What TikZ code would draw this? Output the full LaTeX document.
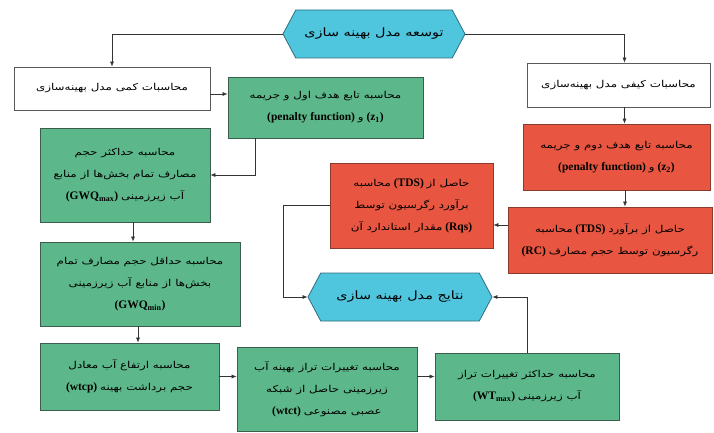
\documentclass[tikz,border=0pt]{standalone}
\usepackage{fontspec}
\setmainfont{Liberation Serif}
\newfontfamily\arabicfont[Script=Arabic,FakeStretch=1.25]{DejaVu Sans}
\TeXXeTstate=1
\usetikzlibrary{shapes.symbols,arrows.meta}
\newcommand\fasize{9.5}
\newcommand\fa[1]{{\arabicfont\mdseries\fontsize{\fasize}{22}\selectfont\beginR #1\endR}}
\definecolor{gfill}{HTML}{5CB88A}
\definecolor{gline}{HTML}{3B5E4C}
\definecolor{rfill}{HTML}{E85540}
\definecolor{rline}{HTML}{8B3A2E}
\definecolor{cfill}{HTML}{4FC5DE}
\definecolor{cline}{HTML}{2F6F80}
\tikzset{
  base/.style={draw, line width=0.8pt, align=center, inner sep=2pt, font=\fontsize{11.5}{22}\selectfont\bfseries},
  wbox/.style={base, draw=black!65, fill=white},
  gbox/.style={base, draw=gline, fill=gfill},
  rbox/.style={base, draw=rline, fill=rfill},
  hexa/.style={base, draw=cline, fill=cfill, shape=signal, signal to=east and west, signal pointer angle=124,
    font=\renewcommand\fasize{11.5}},
  arr/.style={draw=black!80, line width=0.6pt, -{Latex[length=5pt,width=4pt]}}
}
\begin{document}
\begin{tikzpicture}[x=1pt,y=-1pt]
\useasboundingbox (0,0) rectangle (714,433);
\node[hexa, minimum width=182pt, minimum height=48pt] (top) at (374,34) {\fa{توسعه مدل بهینه سازی}};
\node[hexa, minimum width=184pt, minimum height=48pt] (res) at (400,297) {\fa{نتایج مدل بهینه سازی}};
\node[wbox, minimum width=196pt, minimum height=43pt] (wL) at (112,88.5) {\fa{محاسبات کمی مدل بهینه‌سازی}};
\node[wbox, minimum width=183pt, minimum height=44pt] (wR) at (618.5,85) {\fa{محاسبات کیفی مدل بهینه‌سازی}};
\node[gbox, minimum width=195pt, minimum height=61pt] (g1) at (325.5,107.5) {\fa{محاسبه تابع هدف اول و جریمه}\\(penalty function) \fa{و} (z\textsubscript{1})};
\node[gbox, minimum width=170pt, minimum height=94pt] (g2) at (125,175) {\fa{محاسبه حداکثر حجم}\\\fa{مصارف تمام بخش‌ها از منابع}\\(GWQ\textsubscript{max}) \fa{آب زیرزمینی}};
\node[gbox, minimum width=200pt, minimum height=84pt] (g3) at (140,284) {\fa{محاسبه حداقل حجم مصارف تمام}\\\fa{بخش‌ها از منابع آب زیرزمینی}\\(GWQ\textsubscript{min})};
\node[gbox, minimum width=179pt, minimum height=67pt] (g4) at (129.5,376.5) {\fa{محاسبه ارتفاع آب معادل}\\(wtcp) \fa{حجم برداشت بهینه}};
\node[gbox, minimum width=180pt, minimum height=84pt] (g5) at (327,389) {\fa{محاسبه تغییرات تراز بهینه آب}\\\fa{زیرزمینی حاصل از شبکه}\\(wtct) \fa{عصبی مصنوعی}};
\node[gbox, minimum width=184pt, minimum height=67pt] (g6) at (527,386.5) {\fa{محاسبه حداکثر تغییرات تراز}\\(WT\textsubscript{max}) \fa{آب زیرزمینی}};
\node[rbox, minimum width=187pt, minimum height=66pt] (rB) at (616.5,157) {\fa{محاسبه تابع هدف دوم و جریمه}\\(penalty function) \fa{و} (z\textsubscript{2})};
\node[rbox, minimum width=204pt, minimum height=66pt] (rC) at (610,240) {\fa{محاسبه} (TDS) \fa{حاصل از برآورد}\\(RC) \fa{رگرسیون توسط حجم مصارف}};
\node[rbox, minimum width=163pt, minimum height=85pt] (rA) at (411.5,205.5) {\fa{محاسبه} (TDS) \fa{حاصل از}\\\fa{برآورد رگرسیون توسط}\\\fa{مقدار استاندارد آن} (Rqs)};
% connectors
\draw[arr] (top.west) -| (wL.north);
\draw[arr] (top.east) -| ([xshift=6pt]wR.north);
\draw[arr] ([yshift=-5.5pt]wL.east) -- ([yshift=-5.5pt]wL.east -| g1.west);
\draw[arr] ([xshift=-70.5pt]g1.south) |- (g2.east);
\draw[arr] ([xshift=8pt]g2.south) -- ([xshift=8pt]g2.south |- g3.north);
\draw[arr] ([xshift=-2pt]g3.south) -- ([xshift=-2pt]g3.south |- g4.north);
\draw[arr] (g4.east) -- (g4.east -| g5.west);
\draw[arr] (g4.east -| g5.east) -- (g4.east -| g6.west);
\draw[arr] (g6.north) |- (res.east);
\draw[arr] ([xshift=6pt]wR.south) -- ([xshift=6pt]wR.south |- rB.north);
\draw[arr] ([xshift=8.5pt]rB.south) -- ([xshift=8.5pt]rB.south |- rC.north);
\draw[arr] ([yshift=15pt]rC.west) -- ([yshift=15pt]rC.west -| rA.east);
\coordinate (bend) at (283,205.5);
\draw[arr] (rA.west) -- (bend) |- (res.west);
\end{tikzpicture}
\end{document}
